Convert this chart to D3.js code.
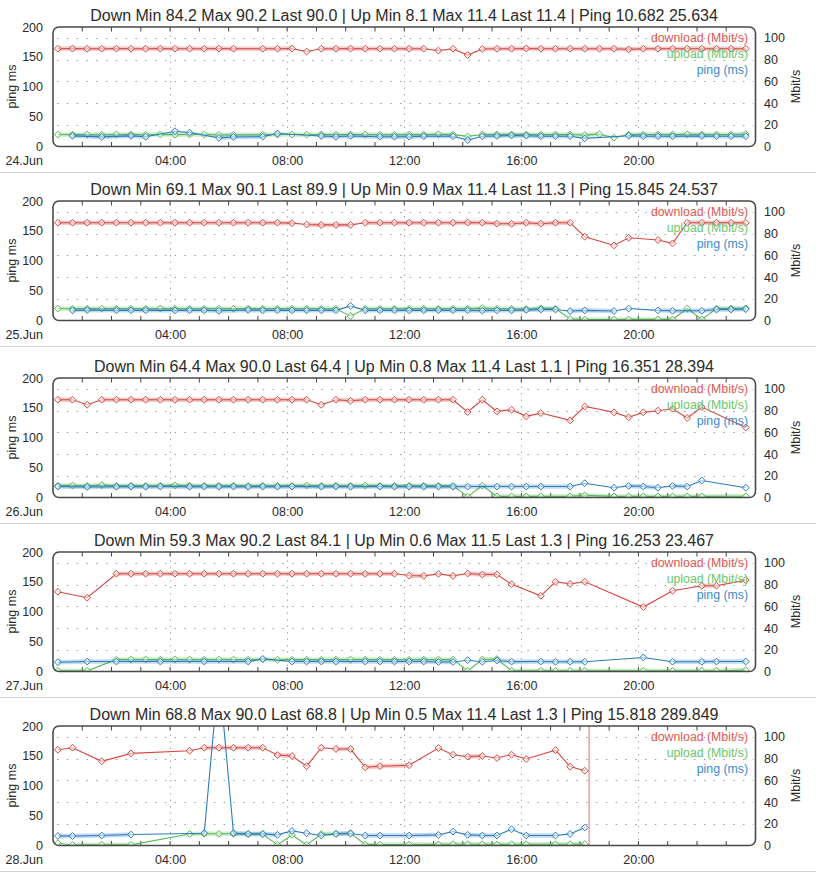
<!DOCTYPE html>
<html><head><meta charset="utf-8">
<script src="https://cdn.jsdelivr.net/npm/d3@7"></script>
<style>
body{margin:0;background:#fff;}
svg{display:block;font-family:"Liberation Sans",Arial,sans-serif;}
</style>
</head><body>
<svg id="chart" width="816" height="879"></svg>
<script>
// ---------- data ----------
const slots = ["00:10","00:40","01:10","01:40","02:10","02:40","03:10","03:40","04:10","04:40","05:10","05:40",
"06:10","06:40","07:10","07:40","08:10","08:40","09:10","09:40","10:10","10:40","11:10","11:40",
"12:10","12:40","13:10","13:40","14:10","14:40","15:10","15:40","16:10","16:40","17:10","17:40",
"18:10","18:40","19:10","19:40","20:10","20:40","21:10","21:40","22:10","22:40","23:10","23:40"];

const days = ["24.Jun","25.Jun","26.Jun","27.Jun","28.Jun"];
const titles = [
"Down Min 84.2 Max 90.2 Last 90.0 | Up Min 8.1 Max 11.4 Last 11.4 | Ping 10.682 25.634",
"Down Min 69.1 Max 90.1 Last 89.9 | Up Min 0.9 Max 11.4 Last 11.3 | Ping 15.845 24.537",
"Down Min 64.4 Max 90.0 Last 64.4 | Up Min 0.8 Max 11.4 Last 1.1 | Ping 16.351 28.394",
"Down Min 59.3 Max 90.2 Last 84.1 | Up Min 0.6 Max 11.5 Last 1.3 | Ping 16.253 23.467",
"Down Min 68.8 Max 90.0 Last 68.8 | Up Min 0.5 Max 11.4 Last 1.3 | Ping 15.818 289.849"];

const down24 = [90.0,90.1,90.0,90.0,90.1,90.0,90.0,90.1,90.0,90.0,90.0,90.1,
90.0,null,90.0,90.0,90.1,87.4,90.0,90.0,90.1,90.0,90.0,90.0,
90.0,90.0,88.3,90.0,84.2,89.8,90.0,90.0,90.2,90.0,90.0,90.0,
90.0,90.0,90.0,89.4,90.0,90.0,90.0,90.0,90.0,90.0,90.0,90.0];
const up24 = [11.0,10.9,11.0,10.8,11.1,11.0,10.8,11.2,10.9,11.0,11.0,10.7,
10.8,null,10.9,11.0,11.0,10.9,11.0,10.9,11.0,11.1,10.8,10.9,
10.9,10.9,11.3,10.9,9.3,11.0,11.0,11.1,11.0,10.9,11.0,11.0,
10.5,11.4,8.1,10.9,11.0,11.0,11.0,11.3,11.0,11.0,11.0,11.4];
const ping24 = [null,17.8,null,16.1,null,17.8,16.2,null,25.6,23.3,null,14.4,
16.0,null,16.5,21.7,null,null,17.6,16.2,17.6,null,16.3,16.4,
16.4,17.2,null,17.2,10.7,17.2,17.6,18.5,18.0,17.2,17.2,17.2,
13.6,null,null,18.0,17.2,17.2,17.2,null,17.6,17.2,17.2,17.2];

const down25 = [90.0,90.0,90.0,90.0,90.0,90.0,90.0,90.0,90.0,90.0,90.0,90.0,
90.0,90.0,90.0,90.0,89.6,88.3,88.0,88.0,88.0,90.0,90.0,90.0,
90.0,90.0,90.0,90.0,90.1,90.0,89.2,89.0,90.0,89.1,90.0,90.0,
77.1,null,69.1,76.2,null,74.1,71.0,90.0,90.0,90.0,90.0,89.9];
const up25 = [11.0,10.8,10.8,11.0,10.8,10.8,10.8,11.1,10.8,10.8,10.8,10.9,
10.7,11.0,10.8,10.8,10.8,10.8,10.8,10.8,4.0,10.8,10.8,10.8,
10.8,10.8,10.8,10.8,10.8,11.4,10.8,10.8,10.4,11.2,10.9,1.4,
0.9,null,0.9,1.0,null,1.0,1.0,11.0,1.0,11.0,11.1,11.3];
const ping25 = [null,17.0,17.5,null,17.0,17.0,17.0,null,17.0,17.0,17.0,16.2,
null,17.6,17.0,17.0,17.0,17.0,17.0,17.0,24.5,17.0,17.0,17.0,
17.0,17.0,17.0,17.0,17.0,16.5,17.0,17.0,17.6,18.3,18.3,15.8,
17.0,null,16.0,20.0,null,17.0,16.2,null,16.2,18.3,18.3,18.9];

const down26 = [90.0,90.0,85.4,90.0,90.0,90.0,90.0,90.0,90.0,90.0,90.0,90.0,
90.0,90.0,90.0,90.0,90.0,90.0,85.4,90.0,89.0,90.0,90.0,90.0,
90.0,90.0,90.0,90.0,78.7,90.0,79.3,80.8,74.7,77.7,null,71.0,
83.8,null,78.4,73.8,78.4,79.9,81.7,73.2,83.2,null,null,64.4];
const up26 = [10.9,11.0,10.7,11.4,10.7,10.8,10.7,10.8,11.2,10.8,10.7,10.8,
10.8,10.7,10.8,10.8,10.7,11.1,10.7,10.8,10.8,11.0,10.7,10.7,
10.7,10.8,10.7,10.7,0.8,11.0,1.0,1.0,1.0,1.0,null,1.0,
2.0,null,1.0,1.0,1.0,1.0,1.0,1.0,1.0,null,null,1.1];
const ping26 = [18.3,null,17.6,null,18.0,18.3,18.0,18.3,null,18.0,18.3,18.0,
18.3,18.0,18.3,18.0,18.3,null,18.0,18.3,18.0,null,18.3,18.0,
18.3,18.0,18.3,18.0,18.3,null,18.3,18.3,18.3,18.3,null,18.3,
23.9,null,16.4,19.4,18.3,16.4,19.4,18.3,28.4,null,null,16.4];

const down27 = [73.4,null,67.9,null,90.0,90.0,90.0,90.0,90.0,90.0,90.0,90.0,
90.0,90.0,90.0,90.0,90.0,90.0,90.0,90.0,90.0,90.0,90.0,90.0,
88.3,88.0,89.9,88.0,90.2,89.3,89.3,80.4,null,69.7,82.6,80.7,
82.6,null,null,null,59.3,null,74.3,null,78.9,79.0,null,84.1];
const up27 = [0.6,null,0.6,null,11.0,11.0,11.0,10.9,11.0,11.0,10.8,11.0,
11.0,10.8,11.2,10.9,10.9,10.9,10.8,10.9,11.0,11.0,10.9,10.8,
10.8,11.0,11.0,10.9,0.6,11.0,11.5,0.6,null,0.6,0.6,0.6,
0.6,null,null,null,0.6,null,0.6,null,0.7,0.7,null,1.3];
const ping27 = [15.6,null,16.7,null,16.7,null,null,16.7,null,null,16.7,null,
null,16.7,21.1,null,16.7,16.7,16.7,16.7,null,16.7,16.7,16.7,
16.7,16.7,16.0,16.0,18.9,16.3,18.5,16.5,null,16.7,16.3,16.3,
16.3,null,null,null,23.5,null,16.3,null,16.3,16.7,null,16.7];

const down28 = [88.1,90.0,null,77.5,null,84.8,null,null,null,87.2,90.0,90.0,
90.0,90.0,90.0,83.3,82.4,73.0,90.0,88.8,88.8,72.0,73.0,null,
73.9,null,89.7,83.6,81.8,82.4,80.5,83.6,79.6,null,87.8,72.6,
68.8,null,null,null,null,null,null,null,null,null,null,null];
const up28 = [2.1,0.5,null,0.6,null,0.6,null,null,null,10.6,10.8,10.8,
10.8,10.5,10.6,0.6,9.7,0.6,10.6,10.8,11.4,0.8,0.8,null,
0.9,null,1.0,1.2,1.2,1.1,1.0,1.2,1.1,null,1.2,1.2,
1.3,null,null,null,null,null,null,null,null,null,null,null];
const ping28 = [16.1,15.8,null,16.7,null,18.3,null,null,null,null,20.6,289.849,
20.6,19.4,19.4,17.8,24.4,20.6,16.7,19.4,20.0,16.7,16.7,null,
16.7,null,17.8,23.3,17.8,16.7,16.7,27.2,16.7,null,16.7,19.4,
30.0,null,null,null,null,null,null,null,null,null,null,null];

const nowMarker = [null,null,null,null,"18:19"];
const xTickHours = [0,4,8,12,16,20];
const xTickLabels = ["04:00","08:00","12:00","16:00","20:00"];
const pingTicks = [0,50,100,150,200];
const mbitTicks = [0,20,40,60,80,100];
const legendLabels = ["download (Mbit/s)","upload (Mbit/s)","ping (ms)"];

// ---------- build ----------
const downs = [down24,down25,down26,down27,down28];
const ups = [up24,up25,up26,up27,up28];
const pings = [ping24,ping25,ping26,ping27,ping28];
const panelTop = [0,174,351,525,699];

const lineColors = ["#d4463f","#55bb55","#2a7bbf"];
const legendColors = ["#dd5a52","#6cc66c","#3a8bcb"];

const toH = s => { const [h,m] = s.split(":").map(Number); return h + m/60; };
const hours = slots.map(toH);

const svg = d3.select("#chart");
const X0 = 53, X1 = 755.5, YT = 27, YB = 146.5;
const x = d3.scaleLinear().domain([0,24]).range([X0,X1]);
const yL = d3.scaleLinear().domain([0,200]).range([YB,YT]);
const yR = d3.scaleLinear().domain([0,110]).range([YB,YT]);

svg.append("defs").append("clipPath").attr("id","plotclip")
  .append("rect").attr("x",X0).attr("y",YT).attr("width",X1-X0).attr("height",YB-YT);

days.forEach((day,p) => {
  const g = svg.append("g").attr("transform",`translate(0,${panelTop[p]})`);

  // separator
  g.append("line").attr("x1",0).attr("x2",816).attr("y1",172.5).attr("y2",172.5)
    .attr("stroke","#d4d4d4").attr("stroke-width",1);

  // title
  g.append("text").attr("x",404).attr("y",20.5).attr("text-anchor","middle")
    .attr("font-size","16px").attr("fill","#2b2b2b").text(titles[p]);

  // grid horizontal
  g.selectAll(".hg").data(mbitTicks.filter(v=>v>0)).join("line")
    .attr("x1",X0+4).attr("x2",X1-2).attr("y1",d=>Math.round(yR(d))+0.5).attr("y2",d=>Math.round(yR(d))+0.5)
    .attr("stroke","#9a9a9a").attr("stroke-width",1).attr("stroke-dasharray","1.5,8.3");
  // grid vertical
  g.selectAll(".vg").data(xTickHours.filter(h=>h>0)).join("line")
    .attr("x1",d=>Math.round(x(d))+0.5).attr("x2",d=>Math.round(x(d))+0.5).attr("y1",YT+2).attr("y2",YB-1)
    .attr("stroke","#a8a8a8").attr("stroke-width",1).attr("stroke-dasharray","1.5,5");

  // hour ticks top and bottom
  const hrs = d3.range(1,24);
  g.selectAll(".tt").data(hrs).join("line")
    .attr("x1",d=>x(d)).attr("x2",d=>x(d)).attr("y1",YT).attr("y2",YT+4.5)
    .attr("stroke","#444").attr("stroke-width",1);
  g.selectAll(".tb").data(hrs).join("line")
    .attr("x1",d=>x(d)).attr("x2",d=>x(d)).attr("y1",YB).attr("y2",YB-4.5)
    .attr("stroke","#444").attr("stroke-width",1);

  // now marker
  if (nowMarker[p]) {
    const h = toH(nowMarker[p]);
    g.append("line").attr("x1",x(h)).attr("x2",x(h)).attr("y1",YT).attr("y2",YB)
      .attr("stroke","#f3a3a3").attr("stroke-width",1.6);
  }

  // series
  const plot = g.append("g").attr("clip-path","url(#plotclip)");
  const series = [
    {vals: downs[p], y: yR},
    {vals: ups[p], y: yR},
    {vals: pings[p], y: yL}
  ];
  series.forEach((s,si) => {
    const pts = s.vals.map((v,i)=>({h:hours[i], v})).filter(d=>d.v!==null);
    const px = pts.map(d=>[x(d.h), s.y(d.v)]);
    // soft band on flat segments
    for (let k=1;k<px.length;k++){
      if (Math.abs(px[k][1]-px[k-1][1]) < 1.3) {
        plot.append("line").attr("x1",px[k-1][0]).attr("y1",px[k-1][1])
          .attr("x2",px[k][0]).attr("y2",px[k][1])
          .attr("stroke",lineColors[si]).attr("stroke-opacity",0.28).attr("stroke-width",4.5);
      }
    }
    plot.append("path").attr("d", d3.line()(px)).attr("fill","none")
      .attr("stroke",lineColors[si]).attr("stroke-width",1.1);
    plot.selectAll(null).data(px).join("path")
      .attr("d", d=>`M${d[0]},${d[1]-3.4}L${d[0]+3.4},${d[1]}L${d[0]},${d[1]+3.4}L${d[0]-3.4},${d[1]}Z`)
      .attr("fill","#fff").attr("fill-opacity",0.55)
      .attr("stroke",lineColors[si]).attr("stroke-width",1);
  });

  // frame
  g.append("rect").attr("x",X0).attr("y",YT).attr("width",X1-X0).attr("height",YB-YT)
    .attr("rx",6).attr("ry",6).attr("fill","none").attr("stroke","#4a4a4a").attr("stroke-width",1.6);

  // axes
  const ax = g.append("g").attr("transform",`translate(${X0},0)`)
    .call(d3.axisLeft(yL).tickValues(pingTicks).tickSize(0).tickPadding(10));
  const ar = g.append("g").attr("transform",`translate(${X1},0)`)
    .call(d3.axisRight(yR).tickValues(mbitTicks).tickSize(0).tickPadding(8.5));
  const ab = g.append("g").attr("transform",`translate(0,${YB})`)
    .call(d3.axisBottom(x).tickValues(xTickHours).tickSize(0).tickPadding(9.5)
      .tickFormat((d,i)=> i===0 ? day : xTickLabels[i-1]));
  [ax,ar,ab].forEach(a=>{
    a.select(".domain").remove();
    a.selectAll("text").attr("font-size","12.5px").attr("fill","#2b2b2b")
      .attr("font-family","'Liberation Sans',Arial,sans-serif");
  });
  ab.selectAll(".tick").filter(d=>d===0).select("text").attr("text-anchor","end").attr("x",-10.5);

  // axis titles
  g.append("text").attr("transform","translate(16,86.5) rotate(-90)").attr("text-anchor","middle")
    .attr("font-size","12.5px").attr("fill","#2b2b2b").text("ping ms");
  g.append("text").attr("transform","translate(800,86.5) rotate(-90)").attr("text-anchor","middle")
    .attr("font-size","12.5px").attr("fill","#2b2b2b").text("Mbit/s");

  // legend
  legendLabels.forEach((lab,li)=>{
    g.append("text").attr("x",748).attr("y",41.5+li*16.4).attr("text-anchor","end")
      .attr("font-size","12.3px").attr("fill",legendColors[li]).text(lab);
  });
});
</script>
</body></html>
